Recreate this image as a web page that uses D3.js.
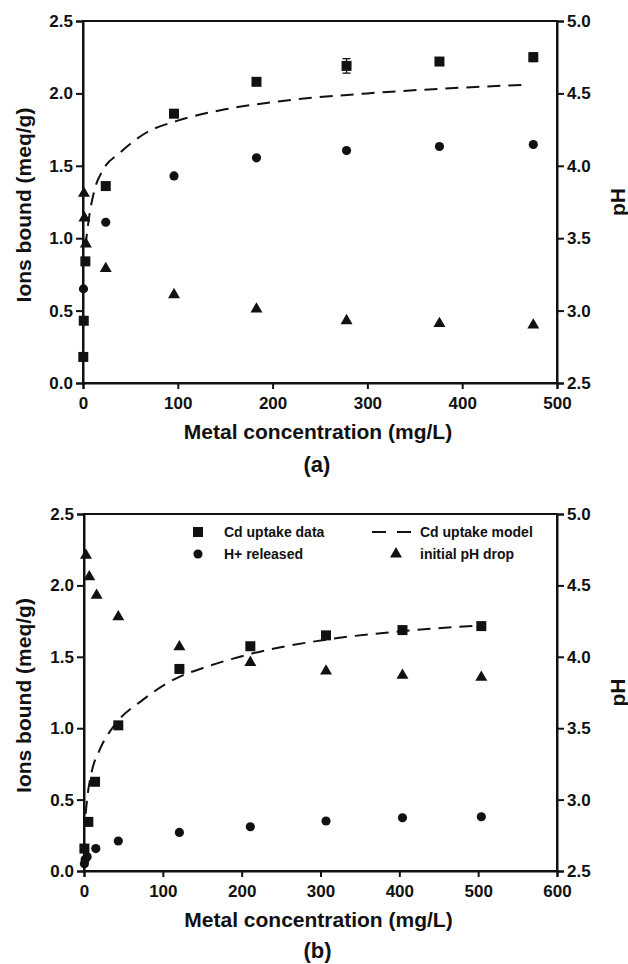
<!DOCTYPE html>
<html>
<head>
<meta charset="utf-8">
<script src="https://cdn.jsdelivr.net/npm/d3@7"></script>
<style>
  body { margin: 0; background: #fff; }
  svg { display: block; font-family: "Liberation Sans", Arial, sans-serif; font-weight: bold; }
</style>
</head>
<body>
<svg id="chart" width="628" height="964"></svg>
<script>
// panel (a)
const aUptakeX = [0.3, 0.8, 2.5, 24, 96, 183, 278, 376, 475];
const aUptake = [0.18, 0.43, 0.84, 1.36, 1.86, 2.08, 2.19, 2.22, 2.25];
const aUptakeErr = [0, 0, 0, 0, 0, 0, 0.05, 0.02, 0.03];
const aHX = [0.5, 24, 96, 183, 278, 376, 475];
const aH = [0.65, 1.11, 1.43, 1.555, 1.605, 1.633, 1.647];
const aPhX = [1, 1.5, 3, 24, 96, 183, 278, 376, 475];
const aPh = [3.81, 3.64, 3.46, 3.29, 3.11, 3.01, 2.93, 2.91, 2.90];
const aModelX = [2.5, 7, 12, 21, 39, 67, 99, 150, 200, 300, 400, 470];
const aModel = [0.94, 1.17, 1.33, 1.47, 1.59, 1.73, 1.81, 1.89, 1.94, 2.0, 2.04, 2.06];

// panel (b)
const bUptakeX = [0.5, 5.5, 14, 43.5, 121, 211, 307, 404, 504];
const bUptake = [0.157, 0.344, 0.625, 1.02, 1.415, 1.574, 1.65, 1.687, 1.715];
const bHX = [0.5, 1.5, 4, 15, 43.5, 121, 211, 307, 404, 504];
const bH = [0.05, 0.08, 0.1, 0.157, 0.21, 0.27, 0.31, 0.35, 0.373, 0.38];
const bPhX = [2.5, 6.7, 16, 43.5, 121, 211, 307, 404, 504];
const bPh = [4.71, 4.56, 4.43, 4.28, 4.07, 3.96, 3.90, 3.87, 3.856];
const bModelX = [2, 5, 10, 20, 40, 75, 121, 150, 211, 307, 404, 504];
const bModel = [0.40, 0.55, 0.70, 0.85, 1.03, 1.20, 1.36, 1.42, 1.52, 1.62, 1.68, 1.72];

const leftTicks = [0, 0.5, 1.0, 1.5, 2.0, 2.5];
const rightTicks = [2.5, 3.0, 3.5, 4.0, 4.5, 5.0];
const aXTicks = [0, 100, 200, 300, 400, 500];
const bXTicks = [0, 100, 200, 300, 400, 500, 600];

const legendLabels = ["Cd uptake data", "Cd uptake model", "H+ released", "initial pH drop"];

const svg = d3.select("#chart");

function zip(xs, ys) {
  return xs.map((x, i) => [x, ys[i]]);
}

function drawPanel(p) {
  const x = d3.scaleLinear().domain([0, p.xMax]).range([p.left, p.right]);
  const y = d3.scaleLinear().domain([0, 2.5]).range([p.bottom, p.top]);
  const yR = d3.scaleLinear().domain([2.5, 5.0]).range([p.bottom, p.top]);
  const g = svg.append("g");

  // frame
  g.append("rect")
    .attr("x", p.left).attr("y", p.top)
    .attr("width", p.right - p.left).attr("height", p.bottom - p.top)
    .attr("fill", "none").attr("stroke", "#111").attr("stroke-width", 2);

  const xa = g.append("g").attr("transform", `translate(0,${p.bottom})`)
    .call(d3.axisBottom(x).tickValues(p.xTicks).tickFormat(d3.format("d")).tickSize(6).tickPadding(8));
  const ya = g.append("g").attr("transform", `translate(${p.left},0)`)
    .call(d3.axisLeft(y).tickValues(leftTicks).tickFormat(d3.format(".1f")).tickSize(7).tickPadding(3));
  const yra = g.append("g").attr("transform", `translate(${p.right},0)`)
    .call(d3.axisRight(yR).tickValues(rightTicks).tickFormat(d3.format(".1f")).tickSize(7).tickPadding(3));
  [xa, ya, yra].forEach(a => {
    a.select(".domain").attr("stroke", "#111").attr("stroke-width", 2);
    a.selectAll(".tick line").attr("stroke", "#111").attr("stroke-width", 2);
    a.selectAll(".tick text").attr("fill", "#111")
      .style("font-size", "17px").style("font-weight", "bold")
      .style("font-family", "'Liberation Sans', Arial, sans-serif");
  });

  // axis titles
  g.append("text")
    .attr("x", (p.left + p.right) / 2 - 2).attr("y", p.bottom + 56)
    .attr("text-anchor", "middle").attr("font-size", 21).attr("fill", "#111")
    .text("Metal concentration (mg/L)");
  g.append("text")
    .attr("transform", `translate(31,${(p.top + p.bottom) / 2 + 3}) rotate(-90)`)
    .attr("text-anchor", "middle").attr("font-size", 21).attr("fill", "#111")
    .text("Ions bound (meq/g)");
  g.append("text")
    .attr("transform", `translate(625,${(p.top + p.bottom) / 2}) rotate(-90)`)
    .attr("text-anchor", "middle").attr("font-size", 21).attr("fill", "#111")
    .text("pH");
  g.append("text")
    .attr("x", (p.left + p.right) / 2 - 3).attr("y", p.labelY)
    .attr("text-anchor", "middle").attr("font-size", 22).attr("fill", "#111")
    .text(p.label);

  // model line
  g.append("path")
    .datum(zip(p.modelX, p.model))
    .attr("d", d3.line().curve(d3.curveMonotoneX).x(d => x(d[0])).y(d => y(d[1])))
    .attr("fill", "none").attr("stroke", "#111").attr("stroke-width", 2)
    .attr("stroke-dasharray", "13,8");

  // error bars
  const errs = zip(p.uptakeX, p.uptake).map((d, i) => [d[0], d[1], p.uptakeErr ? p.uptakeErr[i] : 0])
    .filter(d => d[2] > 0);
  const eb = g.selectAll("g.err").data(errs).join("g").attr("class", "err");
  eb.append("line")
    .attr("x1", d => x(d[0])).attr("x2", d => x(d[0]))
    .attr("y1", d => y(d[1] - d[2])).attr("y2", d => y(d[1] + d[2]))
    .attr("stroke", "#111").attr("stroke-width", 1.3);
  [-1, 1].forEach(s => {
    eb.append("line")
      .attr("x1", d => x(d[0]) - 4).attr("x2", d => x(d[0]) + 4)
      .attr("y1", d => y(d[1] + s * d[2])).attr("y2", d => y(d[1] + s * d[2]))
      .attr("stroke", "#111").attr("stroke-width", 1.3);
  });

  const sq = d3.symbol().type(d3.symbolSquare).size(100);
  const ci = d3.symbol().type(d3.symbolCircle).size(66);
  const tr = d3.symbol().type(d3.symbolTriangle).size(62);

  g.selectAll("path.sq").data(zip(p.uptakeX, p.uptake)).join("path").attr("class", "sq")
    .attr("d", sq).attr("transform", d => `translate(${x(d[0])},${y(d[1])})`).attr("fill", "#111");
  g.selectAll("path.ci").data(zip(p.hX, p.h)).join("path").attr("class", "ci")
    .attr("d", ci).attr("transform", d => `translate(${x(d[0])},${y(d[1])})`).attr("fill", "#111");
  g.selectAll("path.tr").data(zip(p.phX, p.ph)).join("path").attr("class", "tr")
    .attr("d", tr).attr("transform", d => `translate(${x(d[0])},${yR(d[1])})`).attr("fill", "#111");

  if (p.legend) {
    const lg = g.append("g");
    const rows = [p.top + 18, p.top + 40];
    const c1 = 198, c2 = 420;
    lg.append("path").attr("d", sq).attr("transform", `translate(${c1},${rows[0]})`).attr("fill", "#111");
    lg.append("path").attr("d", ci).attr("transform", `translate(${c1},${rows[1]})`).attr("fill", "#111");
    lg.append("line").attr("x1", 372).attr("x2", 411).attr("y1", rows[0]).attr("y2", rows[0])
      .attr("stroke", "#111").attr("stroke-width", 2).attr("stroke-dasharray", "14,11");
    lg.append("path").attr("d", tr).attr("transform", `translate(396,${rows[1]})`).attr("fill", "#111");
    const pos = [[224, rows[0]], [c2, rows[0]], [224, rows[1]], [c2, rows[1]]];
    lg.selectAll("text").data(legendLabels).join("text")
      .attr("x", (d, i) => pos[i][0]).attr("y", (d, i) => pos[i][1] + 5)
      .attr("font-size", 14).attr("fill", "#111")
      .text(d => d);
  }
}

drawPanel({
  left: 83, right: 557, top: 21, bottom: 383, xMax: 500, xTicks: aXTicks,
  uptakeX: aUptakeX, uptake: aUptake, uptakeErr: aUptakeErr,
  hX: aHX, h: aH, phX: aPhX, ph: aPh, modelX: aModelX, model: aModel,
  label: "(a)", labelY: 472, legend: false
});

drawPanel({
  left: 84, right: 557, top: 514, bottom: 871, xMax: 600, xTicks: bXTicks,
  uptakeX: bUptakeX, uptake: bUptake, uptakeErr: null,
  hX: bHX, h: bH, phX: bPhX, ph: bPh, modelX: bModelX, model: bModel,
  label: "(b)", labelY: 958, legend: true
});
</script>
</body>
</html>
